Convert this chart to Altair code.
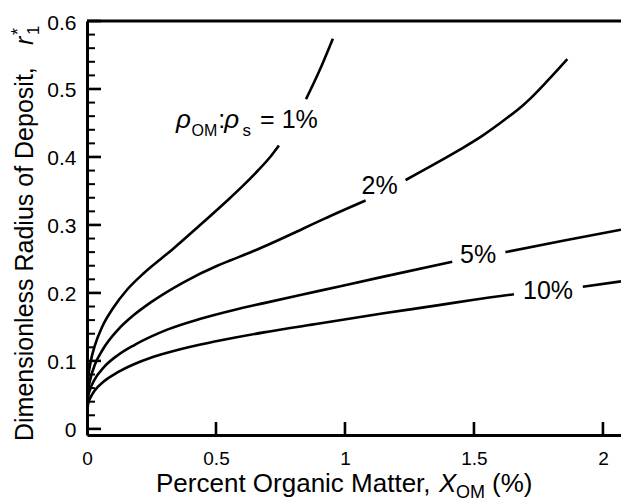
import altair as alt
import pandas as pd

FONT = "Liberation Sans"

# ---- curve data: percent organic matter (x) vs dimensionless radius r*_1 (y)
# Each curve is split in two segments around its in-line label.
x_1a = [0, 0.005, 0.014, 0.03, 0.06, 0.1, 0.156, 0.22, 0.286, 0.331, 0.43, 0.544, 0.6, 0.66, 0.71, 0.744]
y_1a = [0.022, 0.074, 0.098, 0.122, 0.151, 0.177, 0.205, 0.229, 0.25, 0.264, 0.297, 0.336, 0.356, 0.379, 0.4, 0.417]
x_1b = [0.849, 0.9, 0.953]
y_1b = [0.485, 0.526, 0.574]

x_2a = [0, 0.005, 0.015, 0.03, 0.06, 0.118, 0.18, 0.247, 0.376, 0.505, 0.557, 0.673, 0.835, 0.919, 1.08]
y_2a = [0.022, 0.057, 0.076, 0.094, 0.116, 0.145, 0.167, 0.186, 0.216, 0.24, 0.248, 0.266, 0.294, 0.309, 0.336]
x_2b = [1.235, 1.364, 1.442, 1.532, 1.62, 1.687, 1.713, 1.78, 1.862]
y_2b = [0.366, 0.393, 0.41, 0.431, 0.455, 0.475, 0.484, 0.51, 0.544]

x_5a = [0, 0.005, 0.012, 0.027, 0.066, 0.118, 0.182, 0.25, 0.311, 0.44, 0.57, 0.686, 0.9, 1.15, 1.416]
y_5a = [0.022, 0.048, 0.058, 0.071, 0.091, 0.108, 0.123, 0.136, 0.146, 0.162, 0.175, 0.185, 0.203, 0.224, 0.246]
x_5b = [1.622, 1.85, 2.07]
y_5b = [0.26, 0.277, 0.293]

x_10a = [0, 0.005, 0.012, 0.027, 0.066, 0.118, 0.182, 0.25, 0.311, 0.44, 0.57, 0.686, 0.9, 1.15, 1.364, 1.5, 1.655]
y_10a = [0.022, 0.038, 0.045, 0.055, 0.07, 0.083, 0.095, 0.105, 0.112, 0.124, 0.134, 0.142, 0.155, 0.17, 0.182, 0.19, 0.198]
x_10b = [1.922, 2.07]
y_10b = [0.209, 0.217]

# ---- axis ticks
x_major = [0.5, 1, 1.5, 2]
x_labels = [0, 0.5, 1, 1.5, 2]
y_major = [0, 0.1, 0.2, 0.3, 0.4, 0.5, 0.6]
y_minor = [0.02, 0.04, 0.06, 0.08, 0.12, 0.14, 0.16, 0.18, 0.22, 0.24, 0.26, 0.28,
           0.32, 0.34, 0.36, 0.38, 0.42, 0.44, 0.46, 0.48, 0.52, 0.54, 0.56, 0.58]

# ---- in-line curve labels
simple_labels = ["2%", "5%", "10%"]
simple_label_x = [1.134, 1.516, 1.787]
simple_label_y = [0.3456, 0.244, 0.191]

W, H = 534, 414
X_DOM = [0, 2.07]
Y_DOM = [-0.009, 0.6]

segments = [
    ("1a", x_1a, y_1a), ("1b", x_1b, y_1b),
    ("2a", x_2a, y_2a), ("2b", x_2b, y_2b),
    ("5a", x_5a, y_5a), ("5b", x_5b, y_5b),
    ("10a", x_10a, y_10a), ("10b", x_10b, y_10b),
]
rows = []
for key, xs, ys in segments:
    for i, (xv, yv) in enumerate(zip(xs, ys)):
        rows.append({"seg": key, "i": i, "x": xv, "y": yv})
curves_df = pd.DataFrame(rows)

xscale = alt.Scale(domain=X_DOM, nice=False, zero=False)
yscale = alt.Scale(domain=Y_DOM, nice=False, zero=False)

# one axis definition shared by every layer, so the merged axes keep it
xaxis = alt.Axis(values=x_labels, format="~g", ticks=False, grid=False,
                 domainColor="black", domainWidth=3,
                 labelFont=FONT, labelFontSize=19, labelColor="black",
                 labelPadding=14, labelFlush=False)
yaxis = alt.Axis(values=y_major, format="~g", ticks=False, grid=False,
                 domainColor="black", domainWidth=3,
                 labelFont=FONT, labelFontSize=21, labelColor="black",
                 labelPadding=11, labelFlush=False, labelOffset=2)


def X(field):
    return alt.X(field, scale=xscale, axis=xaxis, title="")


def Y(field):
    return alt.Y(field, scale=yscale, axis=yaxis, title="")


curves = alt.Chart(curves_df).mark_line(
    color="black", strokeWidth=2.6, interpolate="monotone", clip=True
).encode(
    x=X("x:Q"), y=Y("y:Q"), detail="seg:N", order="i:Q",
)

# inward-pointing tick marks
xt = alt.Chart(pd.DataFrame({"x": x_major})).mark_rule(color="black", strokeWidth=2.6).encode(
    x=X("x:Q"), y=alt.value(H), y2=alt.value(H - 13),
)
yt_major = alt.Chart(pd.DataFrame({"y": y_major})).mark_rule(color="black", strokeWidth=2.6).encode(
    y=Y("y:Q"), x=alt.value(0), x2=alt.value(14),
)
yt_minor = alt.Chart(pd.DataFrame({"y": y_minor})).mark_rule(color="black", strokeWidth=2).encode(
    y=Y("y:Q"), x=alt.value(0), x2=alt.value(8),
)
top_border = alt.Chart(pd.DataFrame({"v": [0]})).mark_rule(color="black", strokeWidth=3).encode(
    y=alt.value(0), x=alt.value(0), x2=alt.value(W + 2),
)

lab_df = pd.DataFrame({"t": simple_labels, "x": simple_label_x, "y": simple_label_y})
labels = alt.Chart(lab_df).mark_text(
    font=FONT, fontSize=25, color="black", align="center", baseline="alphabetic"
).encode(x=X("x:Q"), y=Y("y:Q"), text="t:N")


def data_text(txt, xv, yv, size, italic=False):
    kw = dict(font=FONT, fontSize=size, color="black", align="left", baseline="alphabetic")
    if italic:
        kw["fontStyle"] = "italic"
    return alt.Chart(pd.DataFrame({"t": [txt], "x": [xv], "y": [yv]})).mark_text(**kw).encode(
        x=X("x:Q"), y=Y("y:Q"), text="t:N",
    )


def px_text(txt, px, py, size, italic=False, angle=0):
    kw = dict(font=FONT, fontSize=size, color="black", align="left", baseline="alphabetic")
    if italic:
        kw["fontStyle"] = "italic"
    if angle:
        kw["angle"] = angle
    return alt.Chart(pd.DataFrame({"t": [txt]})).mark_text(**kw).encode(
        x=alt.value(px), y=alt.value(py), text="t:N",
    )


# density-ratio label for the 1% curve:  rho_OM : rho_s = 1%
BASE, SUB = 0.4426, 0.431
ratio_label = [
    data_text("ρ", 0.345, BASE, 26, italic=True),
    data_text("OM", 0.405, SUB, 16),
    data_text(":", 0.509, BASE, 25),
    data_text("ρ", 0.532, BASE, 26, italic=True),
    data_text("s", 0.603, SUB, 17),
    data_text("= 1%", 0.671, BASE, 25),
]

# x-axis title: Percent Organic Matter, X_OM (%)   (pixel offsets from plot origin)
XT_Y = 471
x_title = [
    px_text("Percent Organic Matter,", 69, XT_Y, 26),
    px_text("X", 352, XT_Y, 26, italic=True),
    px_text("OM", 369, XT_Y + 6, 18),
    px_text("(%)", 405, XT_Y, 26),
]

# y-axis title: Dimensionless Radius of Deposit, r*_1 (rotated)
YT_X = -54
y_title = [
    px_text("Dimensionless Radius of Deposit,", YT_X, 420, 25, angle=270),
    px_text("r", YT_X, 24, 25, italic=True, angle=270),
    px_text("*", YT_X - 9, 14, 18, angle=270),
    px_text("1", YT_X + 6, 14, 17, angle=270),
]

chart = alt.layer(
    curves, xt, yt_major, yt_minor, top_border, labels,
    *ratio_label, *x_title, *y_title,
).properties(
    width=W, height=H,
    autosize=alt.AutoSizeParams(type="none"),
    padding={"left": 87, "top": 21, "right": 0, "bottom": 67},
).configure_view(stroke=None).configure(background="white")

chart.save("out.html", embed_options={"renderer": "svg", "actions": False})
